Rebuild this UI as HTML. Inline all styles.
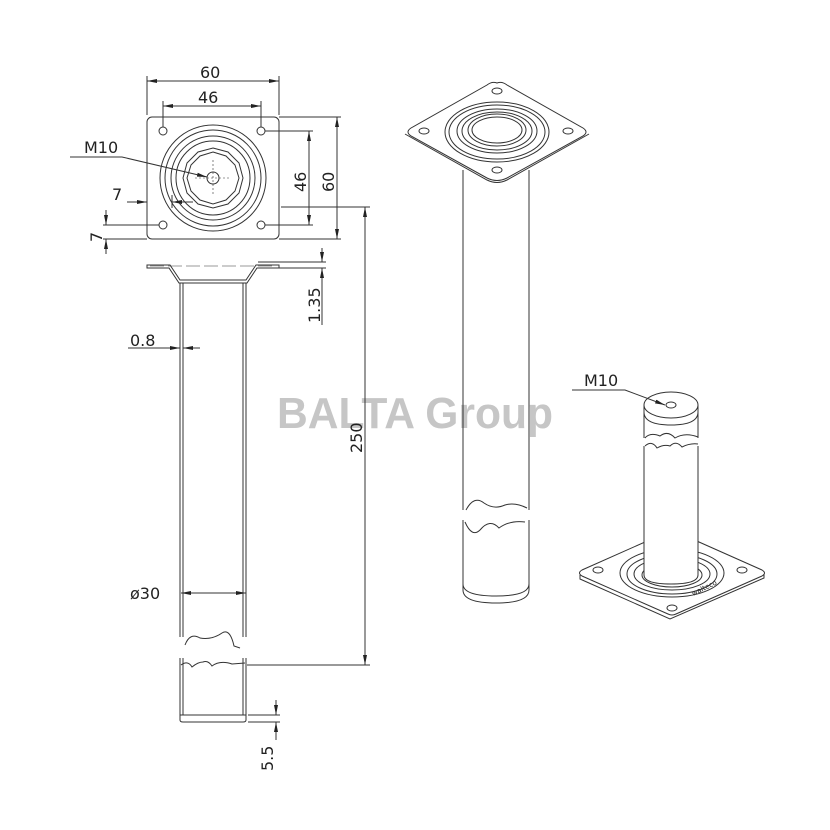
<!DOCTYPE html>
<html><head><meta charset="utf-8"><style>
html,body{margin:0;padding:0;background:#fff}
svg{display:block}
text{font-family:"DejaVu Sans","Liberation Sans",sans-serif;fill:#222}
</style></head><body>
<svg width="830" height="830" viewBox="0 0 830 830" xmlns="http://www.w3.org/2000/svg">
<defs>
<marker id="a" markerWidth="10" markerHeight="6" refX="10" refY="3" orient="auto-start-reverse" markerUnits="userSpaceOnUse"><path d="M0,1 L10,3 L0,5 Z" fill="#222"/></marker>
</defs>
<text x="277" y="428" font-size="44" font-weight="bold" textLength="276" lengthAdjust="spacingAndGlyphs" style="fill:#c6c6c6;font-family:'Liberation Sans',sans-serif">BALTA Group</text>
<g fill="none" stroke="#333" stroke-width="1">
<!-- top plate view -->
<rect x="147" y="117" width="132" height="122" rx="5"/>
<circle cx="163" cy="131" r="4"/><circle cx="261" cy="131" r="4"/><circle cx="163" cy="225" r="4"/><circle cx="261" cy="225" r="4"/>
<circle cx="213" cy="178" r="53"/><circle cx="213" cy="178" r="48"/><circle cx="213" cy="178" r="42"/><circle cx="213" cy="178" r="37"/>
<polygon points="213,148 228,152 239,163 243,178 239,193 228,204 213,208 198,204 187,193 183,178 187,163 198,152"/>
<polygon points="213,152 226,156 235,165 239,178 235,191 226,200 213,204 200,200 191,191 187,178 191,165 200,156"/>
<circle cx="213" cy="178" r="6"/>
<path d="M195,178 H231 M213,160 V196" stroke-dasharray="2,2" stroke-width="0.6"/>
<!-- dims top -->
<path d="M147,115 V76 M279,115 V76 M163,127 V101 M261,127 V101"/>
<path d="M147,81 H279" marker-start="url(#a)" marker-end="url(#a)"/>
<path d="M163,106 H261" marker-start="url(#a)" marker-end="url(#a)"/>
<path d="M70,157 H122 L207,177" marker-end="url(#a)"/>
<path d="M127,202 H147" marker-end="url(#a)"/>
<path d="M193,202 H172" marker-end="url(#a)"/>
<path d="M172,195 V208"/>
<path d="M103,225 H159 M103,239 H147"/>
<path d="M106,210 V225" marker-end="url(#a)"/>
<path d="M106,254 V239" marker-end="url(#a)"/>
<path d="M265,131 H313 M265,225 H313 M279,117 H341 M279,239 H341"/>
<path d="M309,131 V225" marker-start="url(#a)" marker-end="url(#a)"/>
<path d="M337,117 V239" marker-start="url(#a)" marker-end="url(#a)"/>
<path d="M281,207 H370 M247,665 H370"/>
<path d="M365,207 V665" marker-start="url(#a)" marker-end="url(#a)"/>
<!-- side view -->
<path d="M147,265 H170 L180,280 H246 L256,265 H279 V268 H257 L247,283 H179 L169,268 H147 Z"/>
<path d="M150,266 H276" stroke-dasharray="14,4" stroke-width="0.6"/>
<path d="M180,283 V637 M183,283 V637 M243,283 V637 M246,283 V637"/>
<path d="M180,658 V715 M183,658 V715 M243,658 V715 M246,658 V715"/>
<path d="M180,715 H246 V720 Q246,722 243,722 H183 Q180,722 180,720 Z"/>
<path d="M185,645 Q190,632 200,638 Q212,640 222,633 Q230,628 234,646 L240,648"/>
<path d="M181,665 Q188,660 192,667 Q198,662 203,662 Q208,660 212,666 Q220,660 232,664 L245,663"/>
<path d="M258,262 H326 M258,268 H326"/>
<path d="M322,248 V262" marker-end="url(#a)"/>
<path d="M322,325 V268" marker-end="url(#a)"/>
<path d="M128,348 H180" marker-end="url(#a)"/>
<path d="M200,348 H183" marker-end="url(#a)"/>
<path d="M181,593 H246" marker-start="url(#a)" marker-end="url(#a)"/>
<path d="M248,715 H280 M248,722 H280"/>
<path d="M276,700 V715" marker-end="url(#a)"/>
<path d="M276,740 V722" marker-end="url(#a)"/>
<!-- middle iso -->
<path d="M497,83 Q502,81 507,85 L583,128 Q589,132 583,136 L507,178 Q497,183 487,178 L411,136 Q405,132 411,128 L487,85 Q492,81 497,83 Z"/>
<path d="M405,134 L487,180 Q497,185 507,180 L589,134"/>
<ellipse cx="497" cy="91" rx="5" ry="3"/><ellipse cx="424" cy="131" rx="5" ry="3"/><ellipse cx="568" cy="131" rx="5" ry="3"/><ellipse cx="497" cy="170" rx="5" ry="3"/>
<ellipse cx="497" cy="132" rx="52" ry="30"/><ellipse cx="497" cy="132" rx="48" ry="27"/><ellipse cx="497" cy="131" rx="40" ry="22"/><ellipse cx="497" cy="131" rx="35" ry="19"/><ellipse cx="497" cy="130" rx="29" ry="16"/><ellipse cx="497" cy="130" rx="25" ry="13"/>
<path d="M463,170 V510 M529,170 V510 M463,520 V590 M529,520 V590"/>
<path d="M463,590 Q463,603 496,603 Q529,603 529,590"/>
<path d="M463,584 Q463,596 496,596 Q529,596 529,584"/>
<path d="M466,510 Q474,495 484,503 Q494,510 505,505 Q515,502 527,508"/>
<path d="M465,522 Q472,538 480,530 Q490,518 499,528 Q510,520 525,522"/>
<!-- right iso: plate first -->
<path d="M672,530 L762,570 Q767,573 762,576 L676,614 Q672,616 668,614 L582,576 Q577,573 582,570 Z"/>
<path d="M580,575 V579 L670,619 L764,578 V574"/>
<ellipse cx="672" cy="573" rx="52" ry="24"/><ellipse cx="672" cy="574" rx="45" ry="20"/><ellipse cx="672" cy="574" rx="38" ry="16"/><ellipse cx="672" cy="575" rx="30" ry="12"/>
<ellipse cx="598" cy="570" rx="5" ry="3"/><ellipse cx="742" cy="570" rx="5" ry="3"/><ellipse cx="672" cy="608" rx="5" ry="3"/>
<!-- tube over plate -->
<path d="M644,405 V575 Q644,584 671,584 Q698,584 698,575 V405 Z" fill="#fff" stroke="none"/>
<path d="M644,575 Q644,584 671,584 Q698,584 698,575"/>
<ellipse cx="671" cy="405" rx="27" ry="13" fill="#fff"/>
<ellipse cx="671" cy="405" rx="5" ry="3"/>
<path d="M644,405 V438 M698,405 V438 M644,446 V575 M698,446 V575"/>
<path d="M644,412 Q644,425 671,425 Q698,425 698,412"/>
<path d="M645,438 Q650,432 660,436 Q668,430 675,438 Q685,432 698,437"/>
<path d="M645,446 Q652,440 657,448 Q664,444 670,446 Q676,440 682,447 Q690,443 698,444"/>
<path d="M572,390 H625 L665,405" marker-end="url(#a)"/>
</g>
<g font-size="16">
<text x="200" y="78">60</text>
<text x="198" y="103">46</text>
<text x="84" y="153">M10</text>
<text x="112" y="200">7</text>
<text transform="translate(102,242) rotate(-90)">7</text>
<text transform="translate(306,192) rotate(-90)">46</text>
<text transform="translate(334,192) rotate(-90)">60</text>
<text transform="translate(362,453) rotate(-90)">250</text>
<text transform="translate(320,323) rotate(-90)">1.35</text>
<text x="130" y="346">0.8</text>
<text x="130" y="599">ø30</text>
<text transform="translate(273,771) rotate(-90)">5.5</text>
<text x="584" y="386">M10</text>
<text transform="translate(693,596) rotate(-26)" font-size="7">walteco</text>
</g>
</svg>
</body></html>
